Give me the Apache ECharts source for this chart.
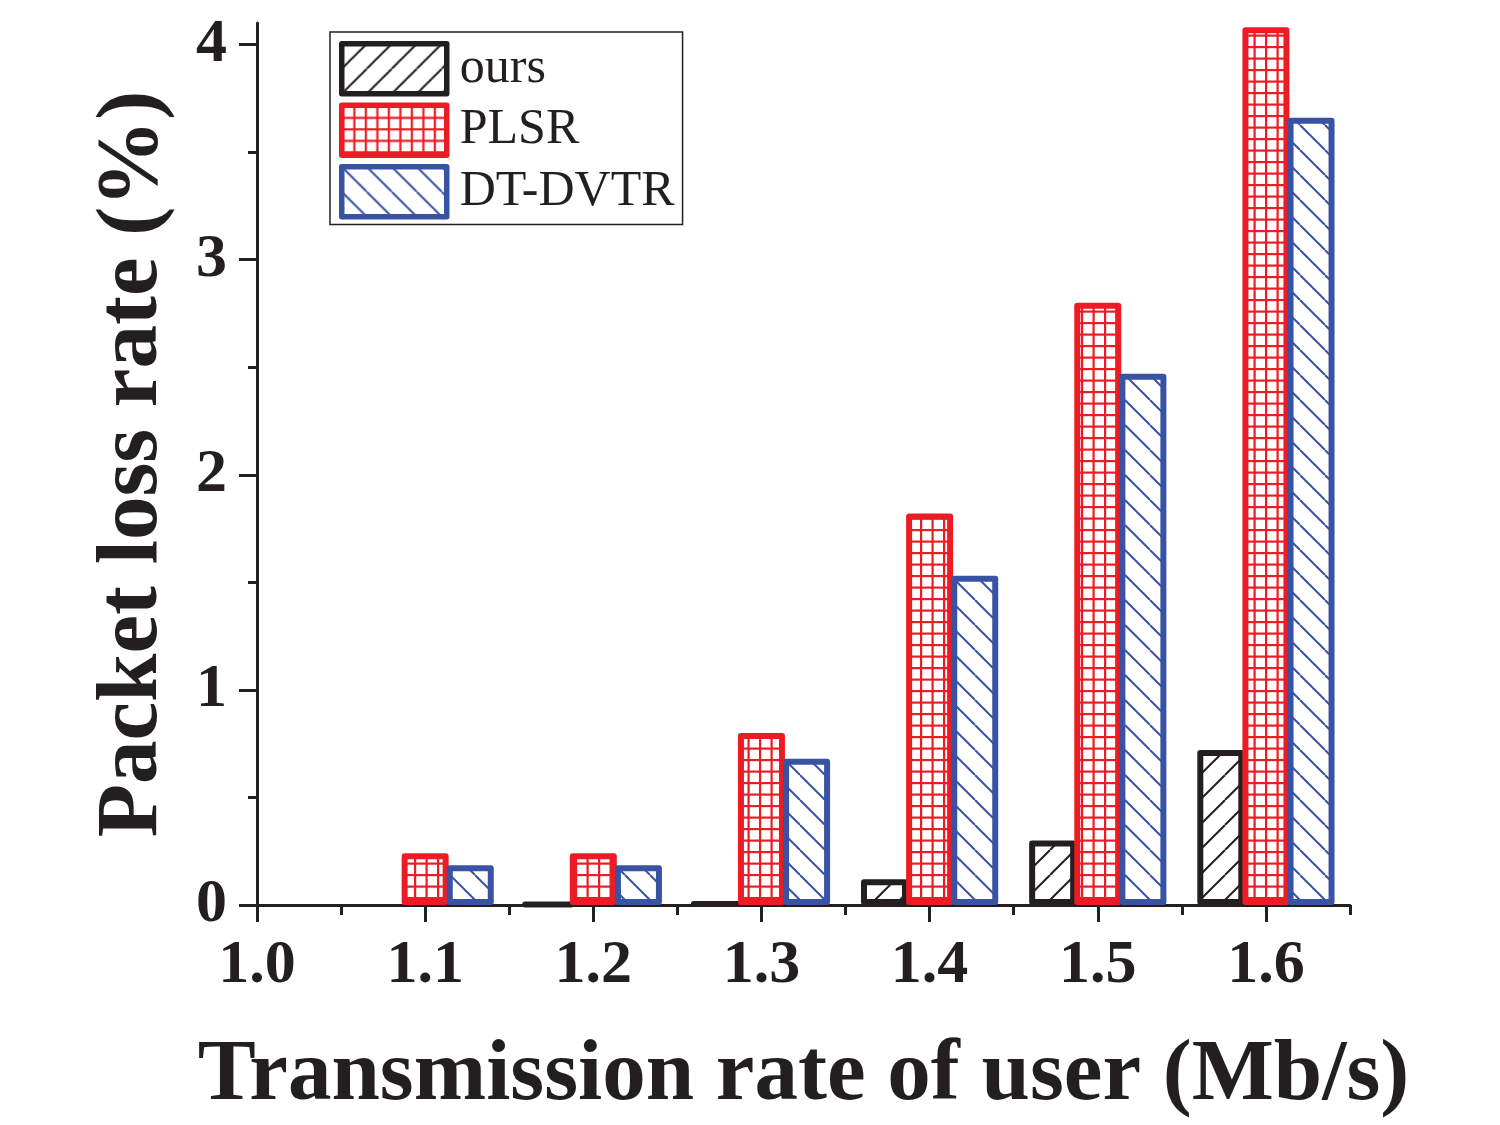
<!DOCTYPE html>
<html>
<head>
<meta charset="utf-8">
<script src="https://cdn.jsdelivr.net/npm/echarts@6/dist/echarts.min.js"></script>
<style>
  html, body { margin: 0; padding: 0; background: #fff; }
  #chart { width: 1500px; height: 1125px; }
</style>
</head>
<body>
<div id="chart"></div>
<script>
// data
const rates = [1.1, 1.2, 1.3, 1.4, 1.5, 1.6]
const ours = [null, 0.005, 0.01, 0.12, 0.3, 0.72]
const plsr = [0.24, 0.24, 0.8, 1.82, 2.8, 4.08]
const dtdvtr = [0.185, 0.185, 0.68, 1.53, 2.47, 3.66]
const seriesNames = ['ours', 'PLSR', 'DT-DVTR']

// ticks
const xTicks = [1.0, 1.1, 1.2, 1.3, 1.4, 1.5, 1.6]
const xMinorTicks = [1.05, 1.15, 1.25, 1.35, 1.45, 1.55, 1.65]
const yTicks = [0, 1, 2, 3, 4]
const yMinorTicks = [0.5, 1.5, 2.5, 3.5]

const axisColor = '#231f20'
const serif = '"Liberation Serif", "Times New Roman", serif'

// hatch fills
function hatch(color, dir) {
  const s = 25
  const c = document.createElement('canvas')
  c.width = s
  c.height = s
  const ctx = c.getContext('2d')
  ctx.fillStyle = '#fff'
  ctx.fillRect(0, 0, s, s)
  ctx.strokeStyle = color
  ctx.lineWidth = 2
  for (let k = -1; k <= 1; k++) {
    ctx.beginPath()
    if (dir > 0) {
      ctx.moveTo(k * s, s)
      ctx.lineTo(k * s + s, 0)
    } else {
      ctx.moveTo(k * s, 0)
      ctx.lineTo(k * s + s, s)
    }
    ctx.stroke()
  }
  return { image: c, repeat: 'repeat' }
}

function grid(color) {
  const s = 11.5
  const c = document.createElement('canvas')
  c.width = 23
  c.height = 23
  const ctx = c.getContext('2d')
  ctx.fillStyle = '#fff'
  ctx.fillRect(0, 0, 23, 23)
  ctx.fillStyle = color
  for (let i = 0; i < 2; i++) {
    ctx.fillRect(i * s, 0, 2.2, 23)
    ctx.fillRect(0, i * s, 23, 2.2)
  }
  return { image: c, repeat: 'repeat' }
}

const fills = [hatch('#231f20', 1), grid('#ed1c24'), hatch('#3953a4', -1)]
const borders = ['#231f20', '#ed1c24', '#3953a4']
const values = [ours, plsr, dtdvtr]

const nameFont = {
  fontFamily: serif,
  fontWeight: 'bold',
  fontSize: 87,
  color: axisColor
}
const labelFont = {
  fontFamily: serif,
  fontWeight: 'bold',
  fontSize: 62,
  color: axisColor
}
const lineSt = { color: axisColor, width: 3 }

const chart = echarts.init(document.getElementById('chart'))

chart.setOption({
  animation: false,
  backgroundColor: '#fff',
  grid: {
    left: 257,
    right: 150,
    top: 23,
    bottom: 220
  },
  legend: {
    orient: 'vertical',
    left: 330,
    top: 32,
    padding: [9, 8, 5, 9],
    icon: 'rect',
    itemWidth: 105,
    itemHeight: 50,
    itemGap: 6,
    borderColor: axisColor,
    borderWidth: 1.5,
    itemStyle: {
      borderWidth: 5.5
    },
    textStyle: {
      fontFamily: serif,
      fontSize: 50,
      lineHeight: 50,
      color: axisColor,
      padding: [0, 0, 0, 8]
    },
    data: seriesNames
  },
  xAxis: [{
    type: 'value',
    min: 1.0,
    max: 1.65,
    interval: 0.1,
    name: 'Transmission rate of user (Mb/s)',
    nameLocation: 'middle',
    nameGap: 128,
    nameTextStyle: nameFont,
    axisLine: { show: true, lineStyle: lineSt },
    axisTick: { show: true, length: 17, customValues: xTicks, lineStyle: lineSt },
    splitLine: { show: false },
    axisLabel: Object.assign({
      margin: 30,
      customValues: xTicks,
      formatter: v => v.toFixed(1)
    }, labelFont)
  }, {
    type: 'value',
    position: 'bottom',
    min: 1.0,
    max: 1.65,
    interval: 0.1,
    axisLine: { show: false },
    axisTick: { show: true, length: 10, customValues: xMinorTicks, lineStyle: lineSt },
    axisLabel: { show: false },
    splitLine: { show: false }
  }],
  yAxis: [{
    type: 'value',
    min: 0,
    max: 4.1,
    interval: 1,
    name: 'Packet loss rate (%)',
    nameLocation: 'middle',
    nameGap: 80,
    nameTextStyle: nameFont,
    axisLine: { show: true, lineStyle: lineSt },
    axisTick: { show: true, length: 18, customValues: yTicks, lineStyle: lineSt },
    splitLine: { show: false },
    axisLabel: Object.assign({
      margin: 30,
      customValues: yTicks
    }, labelFont)
  }, {
    type: 'value',
    position: 'left',
    min: 0,
    max: 4.1,
    interval: 1,
    axisLine: { show: false },
    axisTick: { show: true, length: 9, customValues: yMinorTicks, lineStyle: lineSt },
    axisLabel: { show: false },
    splitLine: { show: false }
  }],
  series: seriesNames.map((name, i) => ({
    name: name,
    type: 'bar',
    barWidth: 47,
    barGap: '-4%',
    data: rates.map((r, j) => [r, values[i][j]]),
    itemStyle: {
      color: fills[i],
      borderColor: borders[i],
      borderWidth: 6,
      borderJoin: 'round'
    }
  }))
})
</script>
</body>
</html>
